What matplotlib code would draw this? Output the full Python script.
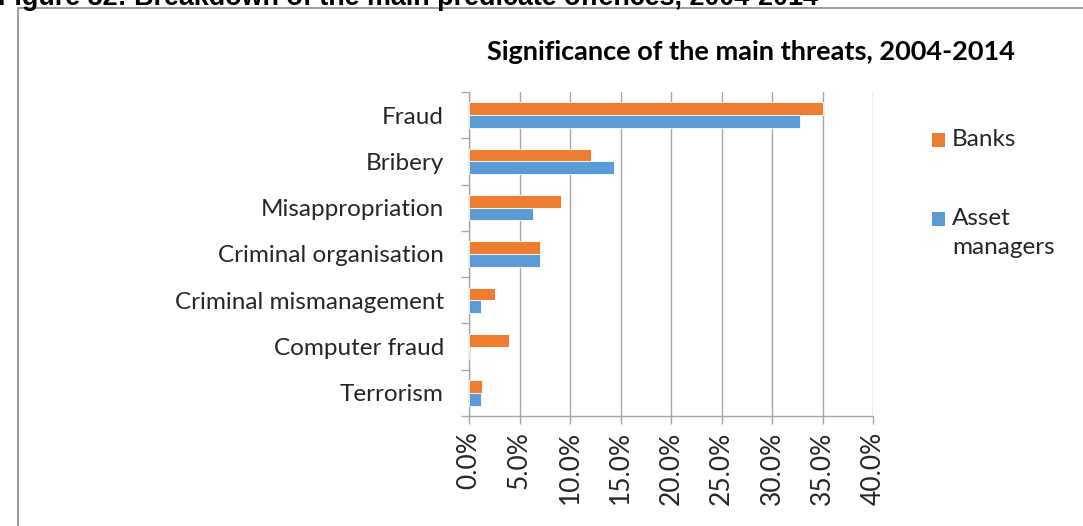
import matplotlib
matplotlib.use("Agg")
import matplotlib.pyplot as plt
from matplotlib.patches import Rectangle
from matplotlib.ticker import FuncFormatter, MultipleLocator
import numpy as np

categories = ["Fraud", "Bribery", "Misappropriation", "Criminal organisation",
              "Criminal mismanagement", "Computer fraud", "Terrorism"]
banks = [35.0, 12.1, 9.1, 7.0, 2.6, 4.0, 1.3]
asset_managers = [32.8, 14.4, 6.3, 7.0, 1.2, 0.0, 1.2]
series_names = ["Banks", "Asset\nmanagers"]
title = "Significance of the main threats, 2004-2014"
caption = "Figure 32: Breakdown of the main predicate offences, 2004-2014"

ORANGE = "#ED7D31"
BLUE = "#5B9BD5"
GRID = "#A6A6A6"
TXT = "#262626"

W, H = 1083, 526
fig = plt.figure(figsize=(W / 100, H / 100), dpi=100)

# outer chart border
fig.patches.append(Rectangle((18 / W, -0.1), 1.2, 1 - 8 / H + 0.1, transform=fig.transFigure,
                             fill=False, edgecolor="#8C8C8C", linewidth=1.2))
# clipped caption at top (cut off in the reference too)
fig.text(-2 / W, 1 - 5 / H, caption, ha="left", va="baseline", fontsize=19.4,
         fontweight="bold", family="Liberation Sans", color="black")

ax = fig.add_axes([469 / W, 1 - 416 / H, (873 - 469) / W, (416 - 92) / H])

n = len(categories)
y = np.arange(n)
h = 0.275
ax.barh(y - h / 2, banks, height=h, color=ORANGE, edgecolor="white", linewidth=0.6, zorder=3)
ax.barh(y + h / 2, asset_managers, height=h, color=BLUE, edgecolor="white", linewidth=0.6, zorder=3)

ax.set_ylim(n - 0.5, -0.5)
ax.set_xlim(0, 40)
ax.xaxis.set_major_locator(MultipleLocator(5))
ax.xaxis.set_major_formatter(FuncFormatter(lambda v, p: f"{v:.1f}%"))
ax.grid(axis="x", color=GRID, linewidth=1.0, zorder=0)

ax.set_yticks(y)
ax.set_yticklabels(categories)
ax.set_yticks(np.arange(-0.5, n + 0.5, 1), minor=True)
ax.tick_params(axis="y", which="major", length=0, pad=18, labelsize=17.5, labelcolor=TXT)
ax.tick_params(axis="y", which="minor", length=6, color=GRID, width=1.0, direction="out")
ax.tick_params(axis="x", which="major", length=6, color=GRID, width=1.0, direction="out",
               labelsize=19, labelcolor=TXT, labelrotation=90, pad=5)
for lab in ax.get_yticklabels() + ax.get_xticklabels():
    lab.set_family("Lato")

for s in ["top", "right"]:
    ax.spines[s].set_visible(False)
for s in ["left", "bottom"]:
    ax.spines[s].set_color(GRID)
    ax.spines[s].set_linewidth(1.0)

fig.text(751 / W, 1 - 52 / H, title, ha="center", va="center", fontsize=19.5,
         fontweight="bold", family="Lato", color="black")

# legend (Excel-style, square aligned with first line)
leg_items = [(series_names[0], ORANGE, 140), (series_names[1], BLUE, 219)]
for name, col, yc in leg_items:
    fig.patches.append(Rectangle((932 / W, 1 - (yc + 6.5) / H), 13 / W, 13 / H,
                                 transform=fig.transFigure, facecolor=col, edgecolor="none"))
    fig.text(952 / W, 1 - (yc - 11) / H, name, ha="left", va="top", fontsize=17.5,
             family="Lato", color=TXT, linespacing=1.45)

fig.savefig("out.png", dpi=100)
